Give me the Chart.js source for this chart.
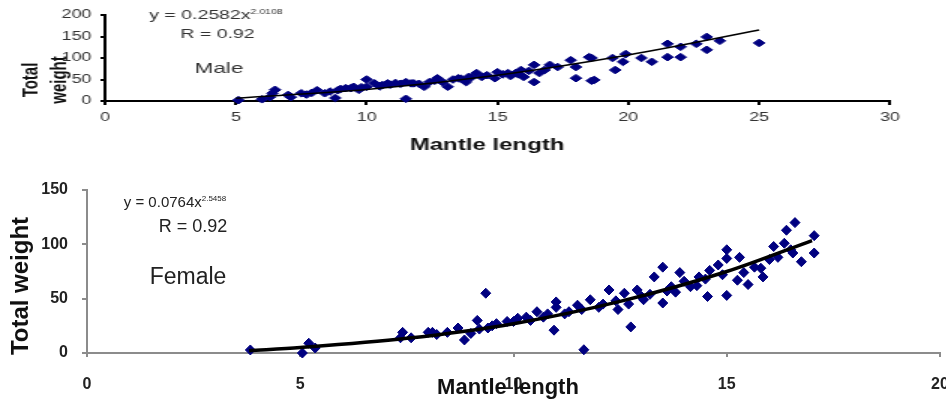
<!DOCTYPE html>
<html>
<head>
<meta charset="utf-8">
<title>Mantle length vs total weight</title>
<script src="https://cdn.jsdelivr.net/npm/chart.js@4/dist/chart.umd.min.js"></script>
<style>
  html, body { margin: 0; padding: 0; background: #fff; }
  body { width: 946px; height: 401px; position: relative; overflow: hidden; }
  /* the male panel is drawn narrow and stretched sideways, like the pasted Excel chart */
  #maleBox { position: absolute; left: 0; top: 0; width: 631px; height: 165px; transform: scaleX(1.5); transform-origin: 0 0; }
  #femaleBox { position: absolute; left: 0; top: 165px; width: 946px; height: 236px; }
</style>
</head>
<body>
<div id="maleBox"><canvas id="maleChart"></canvas></div>
<div id="femaleBox"><canvas id="femaleChart"></canvas></div>
<script>
// Male: mantle length (cm) and total weight (g)
const maleLength = [5.1, 6.0, 6.3, 6.5, 6.4, 7.0, 7.1, 7.5, 7.7, 7.9, 8.1, 8.4, 8.6, 8.8, 8.9, 9.0, 9.2, 9.4, 9.5, 9.7,
  9.8, 10.0, 10.0, 10.3, 10.5, 10.6, 10.8, 10.9, 11.1, 11.3, 11.5, 11.5, 11.7, 11.8, 12.0, 12.2, 12.4, 12.6, 12.7, 12.9,
  13.1, 13.3, 13.5, 13.6, 13.8, 13.9, 14.0, 14.2, 14.4, 14.6, 14.9, 15.0, 15.2, 15.4, 15.5, 15.7, 15.8, 15.9, 16.0, 16.2,
  16.4, 16.4, 16.6, 16.8, 17.0, 17.3, 17.8, 18.0, 18.0, 18.5, 18.6, 18.6, 18.7, 19.4, 19.5, 19.8, 19.9, 20.5, 20.9, 21.5,
  21.5, 22.0, 22.0, 22.6, 23.0, 23.0, 23.5, 25.0];
const maleWeight = [2, 4, 9, 26, 18, 14, 9, 18, 15, 19, 25, 18, 22, 7, 25, 28, 30, 30, 33, 26,
  32, 50, 33, 41, 34, 37, 41, 38, 42, 40, 5, 44, 41, 41, 40, 33, 44, 47, 53, 44,
  33, 50, 53, 52, 44, 56, 55, 65, 56, 60, 53, 67, 62, 65, 58, 65, 62, 72, 56, 70,
  84, 44, 65, 72, 84, 79, 95, 79, 53, 102, 47, 100, 49, 100, 72, 91, 109, 100, 91, 133,
  102, 126, 102, 133, 149, 119, 140, 135];
// power trend line
const maleFitLength = [5, 10, 15, 20, 25];
const maleFitWeight = [6.5, 26.5, 60, 107, 165];

// Female: mantle length (cm) and total weight (g)
const femaleLength = [3.83, 5.05, 5.2, 5.35, 7.35, 7.4, 7.6, 8.0, 8.1, 8.2, 8.45, 8.7, 8.85, 9.0, 9.15, 9.2, 9.35, 9.4, 9.5, 9.6,
  9.85, 10.0, 10.1, 10.3, 10.4, 10.55, 10.7, 10.8, 10.95, 11.0, 11.0, 11.2, 11.3, 11.5, 11.6, 11.65, 11.8, 12.0, 12.1, 12.24,
  12.4, 12.45, 12.6, 12.7, 12.75, 12.9, 13.0, 13.05, 13.2, 13.3, 13.5, 13.5, 13.6, 13.7, 13.8, 13.9, 14.0, 14.15, 14.3, 14.35,
  14.5, 14.55, 14.6, 14.8, 14.9, 15.0, 15.0, 15.0, 15.25, 15.3, 15.4, 15.5, 15.65, 15.8, 15.85, 16.0, 16.1, 16.2, 16.35, 16.4,
  16.5, 16.55, 16.6, 16.75, 17.05, 17.05];
const femaleWeight = [2.8, 0, 9, 4.6, 14, 19, 14, 19, 19, 17, 19, 23, 12, 18, 30, 22, 55, 23, 25, 27,
  29, 29, 32, 33, 30, 38, 33, 36, 21, 47, 42, 36, 38, 44, 40, 3, 49, 42, 45, 58,
  48, 40, 55, 45, 24, 58, 52, 49, 54, 70, 79, 46, 57, 61, 56, 74, 66, 61, 62, 70,
  68, 52, 76, 81, 72, 95, 53, 87, 67, 88, 74, 63, 79, 78, 70, 86, 98, 88, 101, 113,
  95, 92, 120, 84, 108, 92];
const femaleFitLength = [3.8, 5, 7.5, 10, 12.5, 15, 17];
const femaleFitWeight = [2, 5, 13.5, 27, 47.5, 75, 103.5];

// axis ranges
const maleXRange = [0, 30, 5];
const maleYRange = [0, 200, 50];
const femaleXRange = [0, 20, 5];
const femaleYRange = [0, 150, 50];

const FONT = "'Liberation Sans', Arial, sans-serif";
const MARK = '#000080';

function pairs(xs, ys) {
  return xs.map((x, i) => ({ x: x, y: ys[i] }));
}

// free text: equation, R value, sex label and axis titles
const notesPlugin = {
  id: 'notes',
  afterDraw(chart, args, opts) {
    const ctx = chart.ctx;
    (opts.items || []).forEach(t => {
      ctx.save();
      ctx.fillStyle = t.color || '#222';
      ctx.textBaseline = 'middle';
      ctx.font = t.font;
      if (t.rotate) {
        ctx.translate(t.x, t.y);
        ctx.rotate(-Math.PI / 2);
        ctx.textAlign = 'center';
        ctx.fillText(t.text, 0, 0);
      } else if (t.sup) {
        const w = ctx.measureText(t.text).width;
        ctx.font = t.supFont;
        const ws = ctx.measureText(t.sup).width;
        const x0 = t.x - (w + ws) / 2;
        ctx.textAlign = 'left';
        ctx.font = t.font;
        ctx.fillText(t.text, x0, t.y);
        ctx.font = t.supFont;
        ctx.fillText(t.sup, x0 + w, t.y - t.supRise);
      } else {
        ctx.textAlign = 'center';
        ctx.fillText(t.text, t.x, t.y);
      }
      ctx.restore();
    });
  }
};

function makeChart(id, cfg) {
  return new Chart(document.getElementById(id), {
    type: 'scatter',
    data: {
      datasets: [{
        label: 'Trend',
        data: pairs(cfg.fitX, cfg.fitY),
        showLine: true,
        borderColor: '#000',
        borderWidth: cfg.fitWidth,
        pointRadius: 0,
        tension: 0.4,
        cubicInterpolationMode: 'monotone',
        clip: false
      }, {
        label: cfg.name,
        data: pairs(cfg.xs, cfg.ys),
        pointStyle: 'rectRot',
        pointRadius: cfg.markSize,
        backgroundColor: MARK,
        borderColor: MARK,
        borderWidth: 1,
        clip: false
      }]
    },
    options: {
      responsive: true,
      maintainAspectRatio: false,
      animation: false,
      layout: { padding: cfg.padding },
      plugins: {
        legend: { display: false },
        tooltip: { enabled: false },
        notes: { items: cfg.notes }
      },
      scales: {
        x: {
          type: 'linear',
          min: cfg.xRange[0], max: cfg.xRange[1],
          ticks: { stepSize: cfg.xRange[2], color: cfg.tickColor, font: cfg.xTickFont, padding: cfg.xTickPad, maxRotation: 0 },
          grid: { drawOnChartArea: false, tickLength: cfg.xTickLen, color: cfg.axisColor, lineWidth: cfg.axisWidth },
          border: { color: cfg.axisColor, width: cfg.axisWidth },
          afterFit(s) { s.height = cfg.xAxisHeight; s.paddingLeft = 0; s.paddingRight = 0; }
        },
        y: {
          min: cfg.yRange[0], max: cfg.yRange[1],
          ticks: { stepSize: cfg.yRange[2], color: cfg.tickColor, font: cfg.yTickFont, padding: cfg.yTickPad },
          grid: { drawOnChartArea: false, tickLength: cfg.yTickLen, color: cfg.axisColor, lineWidth: cfg.axisWidth },
          border: { color: cfg.axisColor, width: cfg.axisWidth },
          afterFit(s) { s.width = cfg.yAxisWidth; s.paddingTop = 0; s.paddingBottom = 0; }
        }
      }
    },
    plugins: [notesPlugin]
  });
}

makeChart('maleChart', {
  name: 'Male',
  xs: maleLength, ys: maleWeight,
  fitX: maleFitLength, fitY: maleFitWeight, fitWidth: 1.5,
  xRange: maleXRange, yRange: maleYRange,
  markSize: 3.8,
  padding: { left: 0, right: 37.7, top: 15, bottom: 0 },
  xAxisHeight: 64, yAxisWidth: 70,
  axisColor: '#000', axisWidth: 2, tickColor: '#333',
  xTickFont: { family: FONT, size: 12 }, yTickFont: { family: FONT, size: 12 },
  xTickPad: 5, yTickPad: 6, xTickLen: 4, yTickLen: 3,
  notes: [
    { text: 'y = 0.2582x', sup: '2.0108', font: '13px ' + FONT, supFont: '7px ' + FONT, supRise: 3, x: 144, y: 15, color: '#333' },
    { text: 'R = 0.92', font: '13px ' + FONT, x: 145, y: 34, color: '#333' },
    { text: 'Male', font: '15px ' + FONT, x: 146, y: 69, color: '#333' },
    { text: 'Mantle length', font: 'bold 16px ' + FONT, x: 324.7, y: 146, color: '#111' },
    { text: 'Total', font: 'bold 15px ' + FONT, x: 21.3, y: 80, rotate: true, color: '#111' },
    { text: 'weight', font: 'bold 15px ' + FONT, x: 40, y: 80, rotate: true, color: '#111' }
  ]
});

makeChart('femaleChart', {
  name: 'Female',
  xs: femaleLength, ys: femaleWeight,
  fitX: femaleFitLength, fitY: femaleFitWeight, fitWidth: 3.5,
  xRange: femaleXRange, yRange: femaleYRange,
  markSize: 5,
  padding: { left: 0, right: 6, top: 25, bottom: 0 },
  xAxisHeight: 48, yAxisWidth: 87,
  axisColor: '#8c8c8c', axisWidth: 2, tickColor: '#222',
  xTickFont: { family: FONT, size: 16, weight: 'bold' }, yTickFont: { family: FONT, size: 16, weight: 'bold' },
  xTickPad: 18, yTickPad: 14, xTickLen: 4, yTickLen: 5,
  notes: [
    { text: 'y = 0.0764x', sup: '2.5458', font: '15px ' + FONT, supFont: '8px ' + FONT, supRise: 4, x: 175, y: 38 },
    { text: 'R = 0.92', font: '18px ' + FONT, x: 193, y: 62 },
    { text: 'Female', font: '23px ' + FONT, x: 188, y: 113 },
    { text: 'Mantle length', font: 'bold 22px ' + FONT, x: 508, y: 223, color: '#111' },
    { text: 'Total weight', font: 'bold 24px ' + FONT, x: 21, y: 121, rotate: true, color: '#111' }
  ]
});
</script>
</body>
</html>
